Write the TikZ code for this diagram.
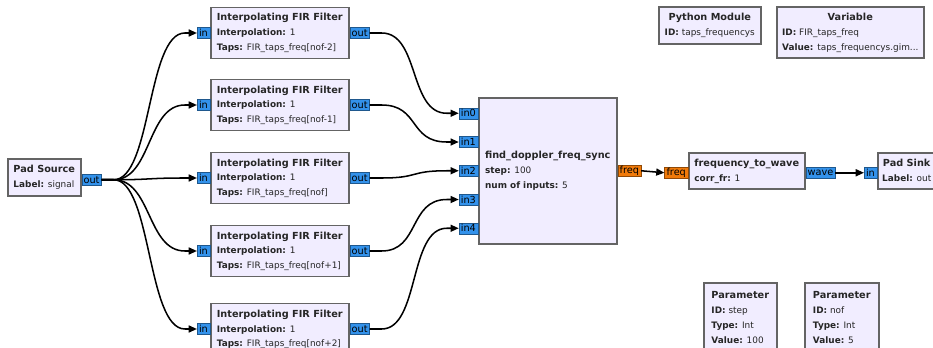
\documentclass[tikz,border=0pt]{standalone}
\usepackage{fontspec}
\usepackage{array}
\setmainfont{DejaVu Sans}
\usetikzlibrary{arrows.meta,calc}

\definecolor{blockfill}{RGB}{241,237,255}
\definecolor{blockline}{RGB}{100,100,100}
\definecolor{cplxport}{RGB}{51,146,235}
\definecolor{fltport}{RGB}{240,122,10}

\newcommand\pxu{0.03cm}
\newcommand\gfont{\fontsize{8.3pt}{12.8pt}\selectfont}
\newcommand\pfont{\fontsize{7.6pt}{12.8pt}\selectfont}
\newcommand\blocktext[2]{\begin{tabular}{@{}>{\pfont}l@{}}\multicolumn{1}{@{}c@{}}{\gfont\textbf{#1}}\\#2\end{tabular}}
\newcommand\fld[2]{\textbf{#1:} #2}

\tikzset{
  block/.style={draw=blockline, fill=blockfill, line width=1.3pt, inner sep=0pt, font=\gfont, text=black!85},
  cport/.style={draw=cplxport!60!black, fill=cplxport, line width=0.4pt, inner xsep=1.6pt, inner ysep=0pt, minimum height=9.4pt, font=\gfont},
  fport/.style={cport, draw=fltport!60!black, fill=fltport},
  link/.style={line width=1.3pt, -{Triangle[length=7pt,width=6pt]}},
  bend link/.style={link, to path={-- ++(12,0) .. controls ($(\tikztostart)+(50,0)$) and ($(\tikztotarget)+(-50,0)$) .. ($(\tikztotarget)+(-12,0)$) -- (\tikztotarget)}}
}

\begin{document}
\begin{tikzpicture}[x=0.03cm, y=-0.03cm]
  \useasboundingbox (0,0) rectangle (933,348);
  \clip (0,0) rectangle (933,348);

  % source
  \node[block, anchor=north west, minimum width=73*\pxu, minimum height=37*\pxu] (src) at (7,158)
    {\blocktext{Pad Source}{\fld{Label}{signal}}};
  \node[cport, anchor=west] (src-out) at ($(src.east)+(0,2.5)$) {out};

  % filters
  \foreach \i/\y/\t in {0/33/nof-2,1/105/nof-1,2/178/nof,3/251/nof+1,4/329/nof+2}{
    \node[block, anchor=west, minimum width=138*\pxu, minimum height=51*\pxu] (fir\i) at (210,\y)
      {\blocktext{Interpolating FIR Filter}{\fld{Interpolation}{1}\\ \fld{Taps}{FIR\_taps\_freq[\t]}}};
    \node[cport, anchor=east] (fir\i-in) at (fir\i.west) {in};
    \node[cport, anchor=west] (fir\i-out) at (fir\i.east) {out};
  }

  % sync block
  \node[block, anchor=north west, minimum width=138*\pxu, minimum height=146*\pxu] (sync) at (478,97)
    {\blocktext{find\_doppler\_freq\_sync}{\fld{step}{100}\\ \fld{num of inputs}{5}}};
  \foreach \k in {0,...,4}
    \node[cport, anchor=east] (sync-in\k) at ($(sync.west)+(0,{(\k-2)*28.75})$) {in\k};
  \node[fport, anchor=west] (sync-freq) at (sync.east) {freq};

  % frequency to wave
  \node[block, anchor=north west, minimum width=116*\pxu, minimum height=36*\pxu] (ftw) at (688,152)
    {\blocktext{frequency\_to\_wave}{\fld{corr\_fr}{1}}};
  \node[fport, anchor=east] (ftw-freq) at ($(ftw.west)+(0,2)$) {freq};
  \node[cport, anchor=west] (ftw-wave) at ($(ftw.east)+(0,2)$) {wave};

  % sink
  \node[block, anchor=north west, minimum width=58*\pxu, minimum height=36*\pxu] (sink) at (877,152)
    {\blocktext{Pad Sink}{\fld{Label}{out}}};
  \node[cport, anchor=east] (sink-in) at ($(sink.west)+(0,2)$) {in};

  % variables and parameters
  \node[block, anchor=north west, minimum width=102*\pxu, minimum height=37*\pxu] (pymod) at (658,6)
    {\blocktext{Python Module}{\fld{ID}{taps\_frequencys}}};
  \node[block, anchor=north west, minimum width=147*\pxu, minimum height=51*\pxu] (var) at (776,6)
    {\blocktext{Variable}{\fld{ID}{FIR\_taps\_freq}\\ \fld{Value}{taps\_frequencys.gim...}}};
  \node[block, anchor=north west, minimum width=73*\pxu, minimum height=70*\pxu] (pstep) at (703,282)
    {\blocktext{Parameter}{\fld{ID}{step}\\ \fld{Type}{Int}\\ \fld{Value}{100}}};
  \node[block, anchor=north west, minimum width=74*\pxu, minimum height=70*\pxu] (pnof) at (804,282)
    {\blocktext{Parameter}{\fld{ID}{nof}\\ \fld{Type}{Int}\\ \fld{Value}{5}}};

  % connections
  \foreach \i in {0,...,4} \draw[bend link] (src-out.east) to (fir\i-in.west);
  \foreach \i in {0,...,4} \draw[bend link] (fir\i-out.east) to (sync-in\i.west);
  \draw[link] (sync-freq.east) -- (ftw-freq.west);
  \draw[link] (ftw-wave.east) -- (sink-in.west);
\end{tikzpicture}
\end{document}
